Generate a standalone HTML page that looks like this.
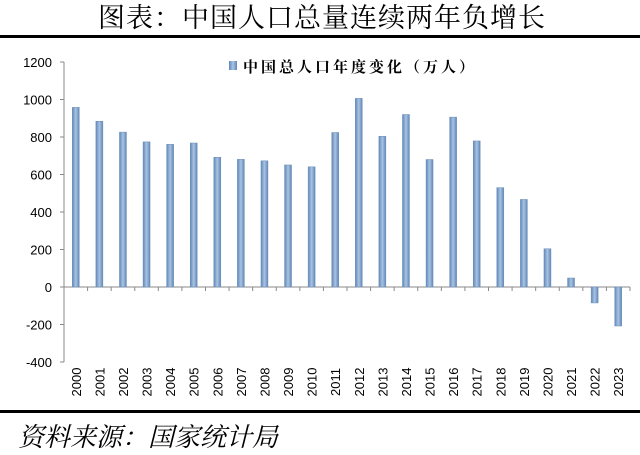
<!DOCTYPE html>
<html><head><meta charset="utf-8"><style>
body{margin:0;background:#fff;width:640px;height:450px;overflow:hidden;font-family:"Liberation Sans","Noto Sans CJK SC",sans-serif}
</style></head><body>
<svg width="640" height="450">
<defs><linearGradient id="g" x1="0" x2="1"><stop offset="0" stop-color="#5f87b8"/><stop offset="0.5" stop-color="#a9c3e3"/><stop offset="1" stop-color="#5f87b8"/></linearGradient></defs>
<text x="322" y="27" text-anchor="middle" font-size="27" letter-spacing="1" font-family="'Liberation Serif','Noto Serif CJK SC',serif">图表：中国人口总量连续两年负增长</text>
<rect x="0" y="35" width="640" height="3" fill="#000"/>
<rect x="0" y="410" width="640" height="3" fill="#000"/>
<text x="18" y="446" font-size="26" font-style="italic" font-family="'Liberation Serif','Noto Serif CJK SC',serif">资料来源：国家统计局</text>
<g id="plot"></g>
<rect x="229" y="61" width="8" height="9" fill="url(#g)"/>
<text x="243" y="72" font-size="15" font-weight="bold" letter-spacing="3" font-family="'Liberation Serif','Noto Serif CJK SC',serif">中国总人口年度变化（万人）</text>
</svg>
<script>
const categories=["2000","2001","2002","2003","2004","2005","2006","2007","2008","2009","2010","2011","2012","2013","2014","2015","2016","2017","2018","2019","2020","2021","2022","2023"];
const values=[958,884,826,774,761,768,692,681,673,651,641,824,1006,804,920,680,906,779,530,467,204,48,-85,-208];
const yTicks=[1200,1000,800,600,400,200,0,-200,-400];
const NS="http://www.w3.org/2000/svg";
const plotG=document.getElementById('plot');
const X0=64,X1=630,Y_MIN=-400,Y_MAX=1200,PT=62,PB=362;
const yS=v=>PT+(Y_MAX-v)/(Y_MAX-Y_MIN)*(PB-PT);
const step=(X1-X0)/categories.length;
const xc=i=>X0+step*(i+0.5);
function mk(t,a){const e=document.createElementNS(NS,t);for(const k in a)e.setAttribute(k,a[k]);plotG.appendChild(e);return e;}
let ax=mk('line',{x1:X0,x2:X0,y1:PT,y2:PB,stroke:'#888'});


yTicks.forEach(v=>{
 let t=mk('line',{x1:X0-4,x2:X0,y1:yS(v),y2:yS(v),stroke:'#888'});
 
 
 let l=mk('text',{x:X0-12,y:yS(v)+5,'text-anchor':'end','font-size':13});
 l.textContent=v;
 
 
});
let xa=mk('line',{x1:X0,x2:X1,y1:yS(0),y2:yS(0),stroke:'#888'});


categories.forEach((c,i)=>{
 let t=mk('line',{x1:X0+step*(i+1),x2:X0+step*(i+1),y1:yS(0),y2:yS(0)+4,stroke:'#888'});
 
 
 const v=values[i];
 let b=mk('rect',{x:xc(i)-3.5,y:Math.min(yS(v),yS(0)),width:7,height:Math.abs(yS(v)-yS(0)),fill:'url(#g)',stroke:'#6f8fb5','stroke-width':0.5});
 
 
 let l=mk('text',{x:0,y:0,'text-anchor':'middle','font-size':13,transform:`translate(${xc(i)+5},382) rotate(-90)`});
 l.textContent=c;
 
 
});
</script>
</body></html>
